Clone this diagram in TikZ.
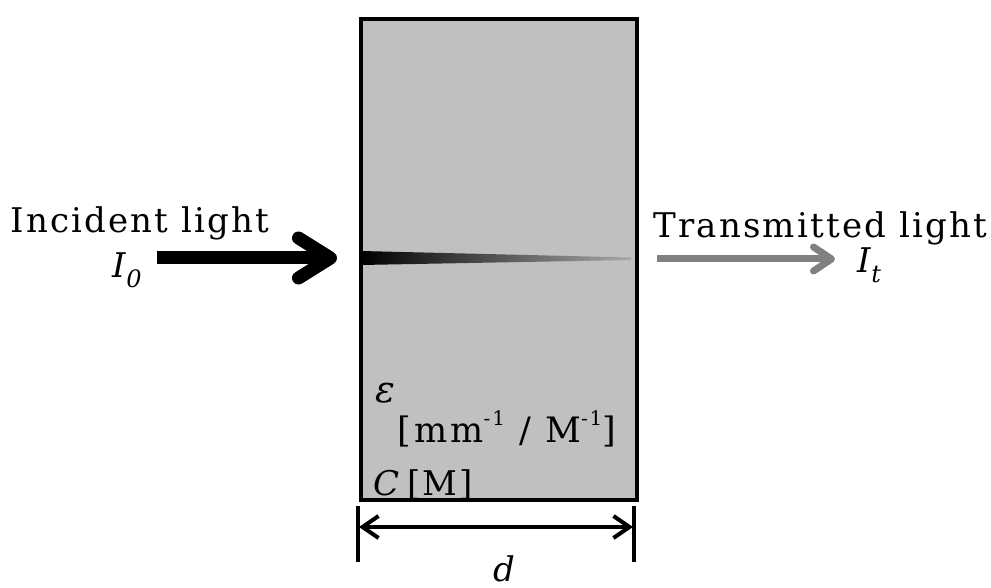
\documentclass[tikz,border=0pt]{standalone}
\usepackage{fontspec}
\setmainfont{DejaVu Serif}
\usetikzlibrary{arrows.meta}
\definecolor{boxgray}{HTML}{C0C0C0}
\definecolor{outgray}{HTML}{808080}
\definecolor{wedgeend}{HTML}{A8A8A8}
\newcommand{\subsc}[1]{\raisebox{-0.28em}{\fontsize{12}{14}\selectfont #1}}
\newcommand{\supsc}[1]{\raisebox{0.5em}{\fontsize{10}{12}\selectfont #1}}
\begin{document}
\begin{tikzpicture}[x=0.5pt,y=-0.5pt,
  lbl/.style={font=\fontsize{17}{20}\selectfont, inner sep=0pt},
  wlbl/.style={font=\fontsize{17}{20}\selectfont\addfontfeature{LetterSpace=6.5}, inner sep=0pt},
  ulbl/.style={font=\fontsize{17.5}{20}\selectfont\addfontfeature{LetterSpace=9}, inner sep=0pt},
  inarrow/.style={line width=6.5pt, -{Straight Barb[round,length=16pt,width=20pt]}},
  outarrow/.style={line width=3.5pt, color=outgray, -{Straight Barb[round,length=9pt,width=12pt]}},
  dimarrow/.style={line width=2pt, {Straight Barb[length=8pt,width=11pt]}-{Straight Barb[length=8pt,width=11pt]}},
  tick/.style={line width=2pt}]
\useasboundingbox (0,0) rectangle (991,588);
% sample cell
\node (cell) [draw, line width=2pt, fill=boxgray, minimum width=138pt, minimum height=240.5pt,
  inner sep=0pt, anchor=north west] at (359,17) {};
% attenuation wedge
\shade[left color=black, right color=wedgeend] (361,251) -- (631,257.5) -- (631,260) -- (361,265) -- cycle;
% incident arrow
\coordinate (src) at (157,258);
\draw[inarrow, shorten >=11pt] (src) -- (cell.west |- src);
% transmitted arrow
\coordinate (dst) at (835,259);
\draw[outarrow, shorten <=9pt] (cell.east |- dst) -- (dst);
% labels
\node[wlbl, anchor=base west] (inc) at (10,233) {Incident light};
\node[lbl, anchor=base west] (i0) at (112,278) {\textit{I}\subsc{\textit{0}}};
\node[wlbl, anchor=base west] (trn) at (653,238) {Transmitted light};
\node[lbl, anchor=base west] (it) at (857,273) {\textit{I}\subsc{\textit{t}}};
\node[lbl, font=\fontsize{18.5}{20}\selectfont, anchor=base west] (eps) at (375,402) {\textit{ε}};
\node[ulbl, anchor=base west] (unit1) at (397,443) {[mm\supsc{-1} / M\supsc{-1}]};
\node[wlbl, anchor=base west] (conc) at (373,495) {\textit{C}\,[M]};
% dimension
\coordinate (t1a) at (358,506); \coordinate (t1b) at (358,562);
\coordinate (t2a) at (634,506); \coordinate (t2b) at (634,562);
\draw[tick] (t1a) -- (t1b);
\draw[tick] (t2a) -- (t2b);
\coordinate (dl) at (359,527); \coordinate (dr) at (633,527);
\draw[dimarrow] (dl) -- (dr);
\node[lbl, anchor=base] (dd) at (504,581) {\textit{d}};
\end{tikzpicture}
\end{document}
